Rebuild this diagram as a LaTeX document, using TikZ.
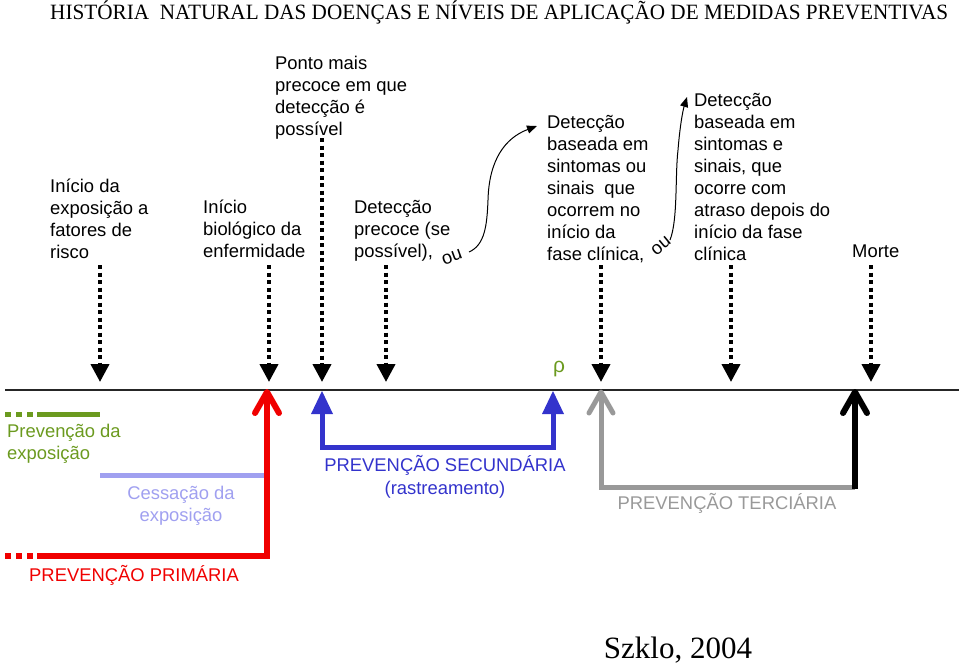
\documentclass[tikz,border=0pt]{standalone}
\usepackage{fontspec}
\setmainfont{Liberation Sans}
\newfontfamily\serifft{Liberation Serif}
\usetikzlibrary{arrows.meta}
\definecolor{pgreen}{RGB}{107,154,31}
\definecolor{pred}{RGB}{240,0,0}
\definecolor{plav}{RGB}{160,160,240}
\definecolor{pblue}{RGB}{51,51,204}
\definecolor{pgray}{RGB}{153,153,153}
\newsavebox\titlebox
\newlength\titlew
\begin{document}
\sbox\titlebox{\serifft\fontsize{20.8}{20.8}\selectfont HISTÓRIA\ \ NATURAL DAS DOENÇAS E NÍVEIS DE APLICAÇÃO DE MEDIDAS PREVENTIVAS}%
\setlength\titlew{\wd\titlebox}%
\pgfmathsetmacro\tsc{898/\titlew}%
\begin{tikzpicture}[x=1pt,y=-1pt,
  txt/.style={inner sep=0pt, font=\fontsize{18.4}{22}\selectfont},
  lbl/.style={txt, anchor=north west, align=left},
  dotarrow/.style={line width=4pt, dash pattern=on 4pt off 3.5pt, -{Triangle[width=18pt,length=18pt]}},
  curv/.style={line width=1pt, -{Triangle[width=8pt,length=10pt]}},
  chev/.style={line cap=round, line join=round},
  ou/.style={txt}]
\useasboundingbox (0,0) rectangle (959,664);
% title
\node[anchor=base west, inner sep=0pt] (title) at (50,19.5) {\scalebox{\tsc}[1.05]{\usebox\titlebox}};
% upper labels
\node[lbl] (a) at (50,179) {Início da\\exposição a\\fatores de\\risco};
\node[lbl] (b) at (203,200) {Início\\biológico da\\enfermidade};
\node[lbl] (c) at (275,56) {Ponto mais\\precoce em que\\detecção é\\possível};
\node[lbl] (d) at (354,200) {Detecção\\precoce (se\\possível),};
\node[ou, rotate=20] (ou1) at (452,257) {ou};
\node[lbl] (e) at (547,115) {Detecção\\baseada em\\sintomas ou\\sinais\ \ que\\ocorrem no\\início da\\fase clínica,};
\node[ou, rotate=40] (ou2) at (661,246) {ou};
\node[lbl] (f) at (694,93) {Detecção\\baseada em\\sintomas e\\sinais, que\\ocorre com\\atraso depois do\\início da fase\\clínica};
\node[lbl] (g) at (852,245) {Morte};
% curved arrows
\coordinate (c1s) at (469,252);
\coordinate (c1e) at (537,126);
\draw[curv] (c1s) .. controls (485,245) and (487,225) .. (488,200) .. controls (489,160) and (505,138) .. (c1e);
\coordinate (c2s) at (670,240);
\coordinate (c2e) at (687,97);
\draw[curv] (c2s) .. controls (678,220) and (675,175) .. (678,150) .. controls (680,125) and (683,110) .. (c2e);
% dotted arrows
\foreach \n/\x/\y in {1/100/265, 2/269/265, 3/322/138, 4/386/265, 5/601/265, 6/731/265, 7/871/265}{
  \coordinate (s\n) at (\x,\y);
  \coordinate (e\n) at (\x,382);
  \draw[dotarrow] (s\n) -- (e\n);
}
% timeline
\coordinate (tl) at (5,390);
\coordinate (tr) at (959,390);
\draw[line width=1.3pt, black!85] (tl) -- (tr);
\node[font=\fontsize{21}{21}\selectfont, text=pgreen, inner sep=0pt] (rho) at (559,369) {ρ};
% green
\draw[pgreen, line width=5pt, dash pattern=on 6pt off 5pt] (5,414) -- (36,414);
\draw[pgreen, line width=5pt] (37,414) -- (100,414);
\node[lbl, text=pgreen] (pe) at (7,424) {Prevenção da\\exposição};
% lavender
\draw[plav, line width=5pt] (100,475) -- (264,475);
\node[txt, text=plav, align=center, anchor=north] (ce) at (181,486) {Cessação da\\exposição};
% red
\draw[pred, line width=6pt, dash pattern=on 6pt off 5pt] (5,556) -- (36,556);
\draw[pred, line width=6pt] (37,556) -- (267,556) -- (267,394);
\draw[pred, line width=6pt, chev] (255,413) -- (267,392) -- (279,413);
\node[txt, text=pred, anchor=west] (pp) at (29,575) {PREVENÇÃO PRIMÁRIA};
% blue
\draw[pblue, line width=5pt] (322,412) -- (322,447) -- (553,447) -- (553,412);
\fill[pblue] (322,391) -- (333,414) -- (311,414) -- cycle;
\fill[pblue] (553,391) -- (564,414) -- (542,414) -- cycle;
\node[txt, text=pblue, align=center, anchor=north, font=\fontsize{18.4}{23.5}\selectfont] (ps) at (445,455) {PREVENÇÃO SECUNDÁRIA\\(rastreamento)};
% gray
\draw[pgray, line width=5pt] (601,394) -- (601,487) -- (855,487);
\draw[pgray, line width=5pt, chev] (589,413) -- (601,392) -- (613,413);
\node[txt, text=pgray] (pt) at (727,503) {PREVENÇÃO TERCIÁRIA};
% black
\draw[black, line width=6pt] (855,394) -- (855,489);
\draw[black, line width=6pt, chev] (843,413) -- (855,392) -- (867,413);
% source
\node[anchor=base, inner sep=0pt, font=\serifft\fontsize{31}{31}\selectfont] (src) at (678,658) {Szklo, 2004};
\end{tikzpicture}
\end{document}
